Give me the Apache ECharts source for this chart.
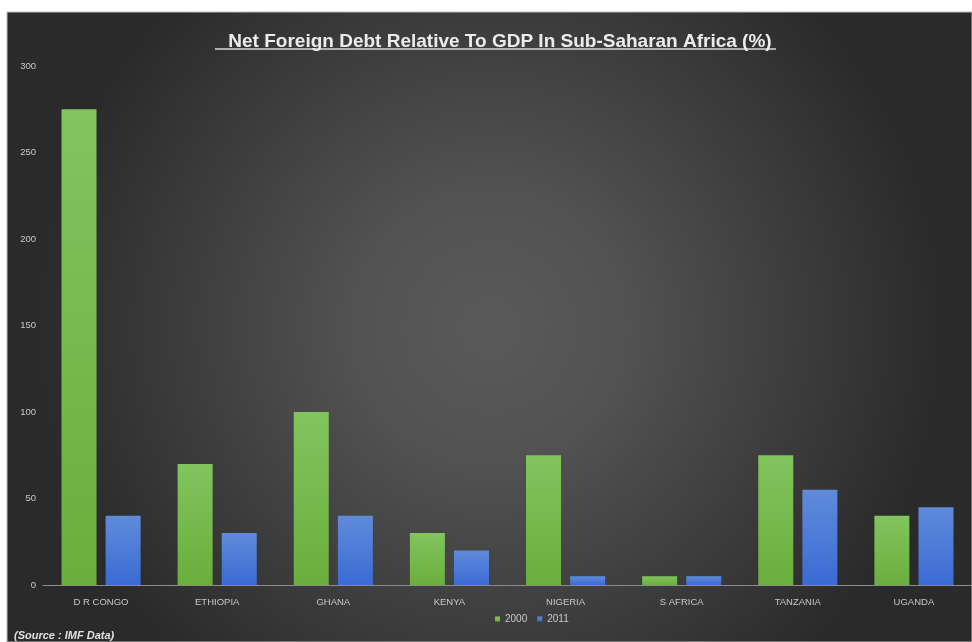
<!DOCTYPE html>
<html>
<head>
<meta charset="utf-8">
<style>
html,body{margin:0;padding:0;background:#fff;}
#chart{width:972px;height:642px;}
</style>
<script src="https://cdn.jsdelivr.net/npm/echarts@6/dist/echarts.min.js"></script>
</head>
<body>
<div id="chart"></div>
<script>
const categories = ['D R CONGO','ETHIOPIA','GHANA','KENYA','NIGERIA','S AFRICA','TANZANIA','UGANDA'];
const values2000 = [275, 70, 100, 30, 75, 5, 75, 40];
const values2011 = [40, 30, 40, 20, 5, 5, 55, 45];
const seriesNames = ['2000','2011'];
const yTicks = [0, 50, 100, 150, 200, 250, 300];

const chart = echarts.init(document.getElementById('chart'));
const green = new echarts.graphic.LinearGradient(0,0,0,1,[{offset:0,color:'#82c45e'},{offset:1,color:'#6aae3d'}]);
const blue = new echarts.graphic.LinearGradient(0,0,0,1,[{offset:0,color:'#608bda'},{offset:1,color:'#3a6bd4'}]);
chart.setOption({
  animation:false,
  backgroundColor:'#ffffff',
  graphic:[
    {type:'rect', z:-10, shape:{x:7,y:12,width:965,height:630},
     style:{fill:new echarts.graphic.RadialGradient(0.5,0.5,0.72,[{offset:0,color:'#5a5a5a'},{offset:0.3,color:'#525252'},{offset:1,color:'#2a2a2a'}]), stroke:'#bdbdbd', lineWidth:1}},
    {type:'line', shape:{x1:215,y1:49,x2:776,y2:49}, style:{stroke:'#d8d8d8', lineWidth:1.5}},
    {type:'text', left:14, top:630, style:{text:'(Source : IMF Data)', fill:'#e0e0e0', font:'italic bold 11px "Liberation Sans", Arial, sans-serif'}}
  ],
  title:{
    text:'Net Foreign Debt Relative To GDP In Sub-Saharan Africa (%)',
    left:495, textAlign:'center', top:27,
    textStyle:{color:'#ececec', fontSize:19, fontWeight:'bold', fontFamily:'"Liberation Sans", Arial, sans-serif'}
  },
  legend:{
    data:seriesNames, left:490, top:609,
    itemWidth:5, itemHeight:5, itemGap:10,
    textStyle:{color:'#c8c8c8', fontSize:10, fontFamily:'"Liberation Sans", sans-serif'},
    icon:'rect'
  },
  grid:{left:43, right:0, top:66, bottom:57},
  xAxis:{
    type:'category', data:categories,
    axisLine:{lineStyle:{color:'#8c8c8c', width:1}},
    axisTick:{show:false},
    axisLabel:{color:'#c8c8c8', fontSize:9.5, margin:12, fontFamily:'"Liberation Sans", sans-serif'}
  },
  yAxis:{
    type:'value', min:0, max:300, interval:50,
    axisLine:{show:false}, axisTick:{show:false}, splitLine:{show:false},
    axisLabel:{color:'#c8c8c8', fontSize:9.5, margin:7, fontFamily:'"Liberation Sans", sans-serif',
      formatter:v=>yTicks.includes(v)?String(v):''}
  },
  series:[
    {name:seriesNames[0], type:'bar', data:values2000, barWidth:35, barGap:'26%', itemStyle:{color:green}},
    {name:seriesNames[1], type:'bar', data:values2011, barWidth:35, itemStyle:{color:blue}}
  ],
  color:['#72b84a','#4a7ad8']
});
</script>
</body>
</html>
